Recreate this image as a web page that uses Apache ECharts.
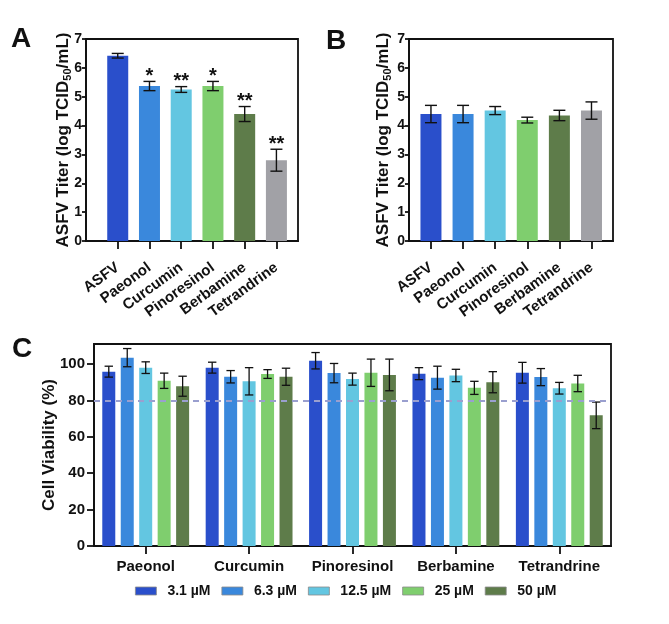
<!DOCTYPE html>
<html>
<head>
<meta charset="utf-8">
<script src="https://cdn.jsdelivr.net/npm/echarts@6/dist/echarts.min.js"></script>
<style>
html,body{margin:0;padding:0;background:#fff;}
#chart{width:669px;height:624px;}
</style>
</head>
<body>
<div id="chart"></div>
<script>
// ---------- data ----------
const catsAB = ['ASFV', 'Paeonol', 'Curcumin', 'Pinoresinol', 'Berbamine', 'Tetrandrine'];
const titerA = [6.42, 5.37, 5.25, 5.37, 4.40, 2.80];
const errA = [0.08, 0.16, 0.10, 0.16, 0.26, 0.38];
const starsA = ['', '*', '**', '*', '**', '**'];
const titerB = [4.40, 4.40, 4.52, 4.19, 4.35, 4.52];
const errB = [0.30, 0.30, 0.14, 0.10, 0.18, 0.30];

const compoundsC = ['Paeonol', 'Curcumin', 'Pinoresinol', 'Berbamine', 'Tetrandrine'];
const doses = ['3.1 µM', '6.3 µM', '12.5 µM', '25 µM', '50 µM'];
const via3_1 = [95.8, 98.0, 101.8, 94.7, 95.2];
const err3_1 = [3.0, 3.0, 4.5, 3.3, 5.7];
const via6_3 = [103.5, 93.0, 95.0, 92.5, 92.8];
const err6_3 = [5.0, 3.4, 5.3, 6.3, 4.7];
const via12_5 = [98.0, 90.5, 91.7, 93.7, 86.7];
const err12_5 = [3.2, 7.5, 3.3, 3.4, 3.2];
const via25 = [90.8, 94.5, 95.2, 86.9, 89.3];
const err25 = [4.2, 2.4, 7.5, 3.6, 4.5];
const via50 = [87.8, 93.0, 94.0, 90.0, 71.8];
const err50 = [5.5, 4.7, 8.7, 5.8, 7.3];
const viabilityTicks = [0, 20, 40, 60, 80, 100];
const threshold = 80;

// ---------- style ----------
const FONT = "'Liberation Sans', Arial, Helvetica, sans-serif";
const INK = '#111111';
const colorsAB = ['#2a4fcb', '#3a88dc', '#63c6e1', '#7fce6e', '#5e7c4a', '#a1a1a6'];
const colorsC = ['#2a4fcb', '#3a88dc', '#63c6e1', '#7fce6e', '#5e7c4a'];
const viaC = [via3_1, via6_3, via12_5, via25, via50];
const errC = [err3_1, err6_3, err12_5, err25, err50];
const BAR_C = 13, GAP_C = 0.42;

const chart = echarts.init(document.getElementById('chart'), null, {renderer: 'canvas'});

function axisLineStyle() { return {color: INK, width: 1.8}; }

function titerXAxis(gridIndex, min, max) {
  const pos = catsAB.map((c, i) => i + 1);
  return {
    gridIndex, type: 'value', min, max,
    axisLine: {show: true, onZero: false, lineStyle: axisLineStyle()},
    axisTick: {show: true, customValues: pos, length: 8, lineStyle: {color: INK, width: 1.8}},
    axisLabel: {customValues: pos, formatter: v => catsAB[Math.round(v) - 1] || '',
      rotate: 36, margin: 25, fontSize: 15, fontWeight: 'bold', color: INK, fontFamily: FONT},
    splitLine: {show: false}
  };
}
function titerYAxis(gridIndex, gap) {
  return {
    gridIndex, type: 'value', min: 0, max: 7, interval: 1,
    axisLine: {show: true, lineStyle: axisLineStyle()},
    axisTick: {show: true, length: 4, lineStyle: {color: INK, width: 1.8}},
    axisLabel: {margin: 4, fontSize: 14, fontWeight: 'bold', color: INK, fontFamily: FONT},
    splitLine: {show: false},
    name: '{a|ASFV Titer (log TCID}{s|50}{a|/mL)}',
    nameLocation: 'middle', nameGap: gap, nameMoveOverlap: false,
    nameTextStyle: {
      rich: {
        a: {fontSize: 17, fontWeight: 'bold', color: INK, fontFamily: FONT, lineHeight: 20},
        s: {fontSize: 11, fontWeight: 'bold', color: INK, fontFamily: FONT, lineHeight: 10, verticalAlign: 'bottom'}
      }
    }
  };
}
function titerBars(idx, values) {
  return {
    type: 'bar', xAxisIndex: idx, yAxisIndex: idx, barWidth: 21,
    data: values.map((v, i) => ({value: [i + 1, v], itemStyle: {color: colorsAB[i]}})),
    z: 2
  };
}
function titerErr(idx, values, errs, stars) {
  return {
    type: 'custom', xAxisIndex: idx, yAxisIndex: idx, z: 3,
    data: values.map((v, i) => [i + 1, v, errs[i]]),
    encode: {x: 0, y: 1},
    renderItem: function (params, api) {
      const x = api.value(0), m = api.value(1), e = api.value(2);
      const top = api.coord([x, m + e]);
      const bot = api.coord([x, m - e]);
      const hw = 6;
      const ls = {stroke: INK, lineWidth: 1.4};
      const children = [
        {type: 'line', shape: {x1: top[0], y1: top[1], x2: bot[0], y2: bot[1]}, style: ls},
        {type: 'line', shape: {x1: top[0] - hw, y1: top[1], x2: top[0] + hw, y2: top[1]}, style: ls},
        {type: 'line', shape: {x1: bot[0] - hw, y1: bot[1], x2: bot[0] + hw, y2: bot[1]}, style: ls}
      ];
      const s = stars ? stars[params.dataIndex] : '';
      if (s) {
        children.push({type: 'text', x: top[0], y: top[1] - 5,
          style: {text: s, fill: INK, font: 'bold 20px ' + FONT, align: 'center', verticalAlign: 'middle'}});
      }
      return {type: 'group', children};
    }
  };
}

const series = [
  titerBars(0, titerA), titerErr(0, titerA, errA, starsA),
  titerBars(1, titerB), titerErr(1, titerB, errB, null)
];

doses.forEach((d, k) => {
  series.push({
    name: d, type: 'bar', xAxisIndex: 2, yAxisIndex: 2,
    barWidth: BAR_C, barGap: (GAP_C * 100) + '%',
    itemStyle: {color: colorsC[k]},
    data: viaC[k], z: 2
  });
});
doses.forEach((d, k) => {
  const s = {
    name: 'err ' + d, type: 'custom', xAxisIndex: 2, yAxisIndex: 2, z: 3,
    data: viaC[k].map((v, i) => [i, v, errC[k][i]]),
    encode: {x: 0, y: 1},
    renderItem: function (params, api) {
      const ci = api.value(0), m = api.value(1), e = api.value(2);
      const off = (k - 2) * BAR_C * (1 + GAP_C);
      const top = api.coord([ci, m + e]);
      const bot = api.coord([ci, m - e]);
      const x = top[0] + off;
      const hw = 4.2;
      const ls = {stroke: INK, lineWidth: 1.3};
      return {type: 'group', children: [
        {type: 'line', shape: {x1: x, y1: top[1], x2: x, y2: bot[1]}, style: ls},
        {type: 'line', shape: {x1: x - hw, y1: top[1], x2: x + hw, y2: top[1]}, style: ls},
        {type: 'line', shape: {x1: x - hw, y1: bot[1], x2: x + hw, y2: bot[1]}, style: ls}
      ]};
    }
  };
  if (k === doses.length - 1) {
    s.z = 4;
    s.markLine = {
      silent: true, symbol: ['none', 'none'], label: {show: false},
      lineStyle: {type: [6, 5], color: '#9a9fcf', width: 2},
      data: [{yAxis: threshold}]
    };
  }
  series.push(s);
});

const letter = (t, left, top) => ({text: t, left, top, padding: 0,
  textStyle: {fontSize: 28, fontWeight: 'bold', color: INK, fontFamily: FONT}});

const option = {
  backgroundColor: '#ffffff',
  animation: false,
  title: [letter('A', 11, 25), letter('B', 326, 27), letter('C', 12, 335)],
  legend: {
    data: doses, left: 135, top: 584, padding: 0, icon: 'rect',
    itemWidth: 21, itemHeight: 8, itemGap: 11,
    itemStyle: {borderColor: '#8a8a8a', borderWidth: 0.8},
    textStyle: {fontSize: 14, fontWeight: 'bold', color: INK, fontFamily: FONT, padding: [0, 0, 0, 6]}
  },
  grid: [
    {left: 86, top: 39, width: 212, height: 202, show: true, borderColor: INK, borderWidth: 1.8, containLabel: false},
    {left: 409, top: 39, width: 204, height: 202, show: true, borderColor: INK, borderWidth: 1.8, containLabel: false},
    {left: 94, top: 344, width: 517, height: 202, show: true, borderColor: INK, borderWidth: 1.8, containLabel: false}
  ],
  xAxis: [
    titerXAxis(0, 0, 6.68),
    titerXAxis(1, 0.316, 6.67),
    {
      gridIndex: 2, type: 'category', data: compoundsC,
      axisLine: {show: true, lineStyle: axisLineStyle()},
      axisTick: {show: true, alignWithLabel: true, length: 8, lineStyle: {color: INK, width: 1.8}},
      axisLabel: {interval: 0, margin: 13, fontSize: 15, fontWeight: 'bold', color: INK, fontFamily: FONT},
      splitLine: {show: false}
    }
  ],
  yAxis: [
    titerYAxis(0, 12.5),
    titerYAxis(1, 15.5),
    {
      gridIndex: 2, type: 'value', min: 0, max: 111,
      axisLine: {show: true, lineStyle: axisLineStyle()},
      axisTick: {show: true, customValues: viabilityTicks, length: 7, lineStyle: {color: INK, width: 1.8}},
      axisLabel: {customValues: viabilityTicks, margin: 9, fontSize: 15, fontWeight: 'bold', color: INK, fontFamily: FONT},
      splitLine: {show: false},
      name: 'Cell Viability (%)', nameLocation: 'middle', nameGap: 36, nameMoveOverlap: false,
      nameTextStyle: {fontSize: 17, fontWeight: 'bold', color: INK, fontFamily: FONT}
    }
  ],
  series
};
chart.setOption(option);
</script>
</body>
</html>
